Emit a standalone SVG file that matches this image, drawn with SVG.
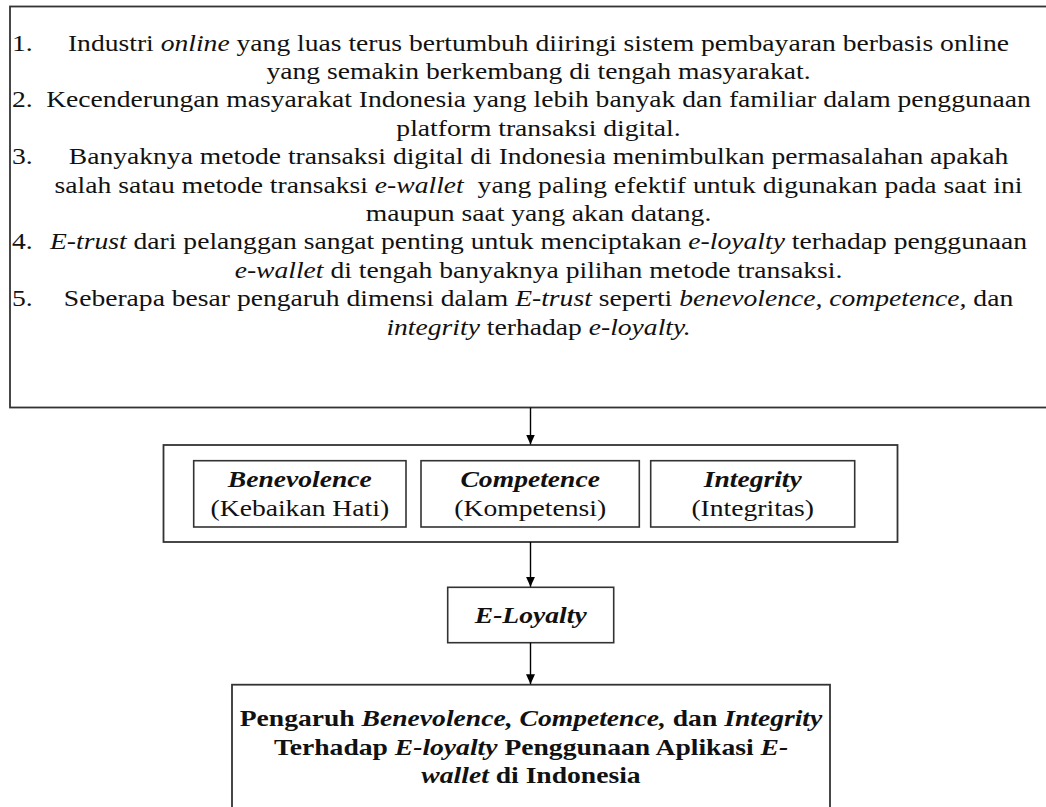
<svg xmlns="http://www.w3.org/2000/svg" width="1046" height="807" viewBox="0 0 1046 807">
<defs>
<style>
.t{font-family:"Liberation Serif","Times New Roman",serif;font-size:24px;fill:#111;}
.c{text-anchor:middle;}
.i{font-style:italic;}
.b{font-weight:bold;}
.box{fill:#fff;stroke:#333;stroke-width:1.8;}
.ibox{fill:#fff;stroke:#333;stroke-width:1.6;}
.conn{stroke:#000;stroke-width:1.4;fill:none;}
</style>
<marker id="ah" viewBox="0 0 10 10" refX="10" refY="5" markerWidth="10" markerHeight="10" markerUnits="userSpaceOnUse" orient="auto">
<path d="M0,0.5 L10,5 L0,9.5 Z" fill="#000"/>
</marker>
</defs>
<rect width="1046" height="807" fill="#fff"/>

<g id="node-problems">
<rect class="box" x="10" y="6.5" width="1045" height="401"/>
<text class="t" transform="translate(12 50.5) scale(1.15 1)">1.</text>
<text class="t c" transform="translate(538.5 50.5) scale(1.15 1)">Industri <tspan class="i">online</tspan> yang luas terus bertumbuh diiringi sistem pembayaran berbasis online</text>
<text class="t c" transform="translate(538.5 78.9) scale(1.15 1)">yang semakin berkembang di tengah masyarakat.</text>
<text class="t" transform="translate(12 107.3) scale(1.15 1)">2.</text>
<text class="t c" transform="translate(538.5 107.3) scale(1.15 1)">Kecenderungan masyarakat Indonesia yang lebih banyak dan familiar dalam penggunaan</text>
<text class="t c" transform="translate(538.5 135.7) scale(1.15 1)">platform transaksi digital.</text>
<text class="t" transform="translate(12 164.1) scale(1.15 1)">3.</text>
<text class="t c" transform="translate(538.5 164.1) scale(1.15 1)">Banyaknya metode transaksi digital di Indonesia menimbulkan permasalahan apakah</text>
<text class="t c" transform="translate(538.5 192.5) scale(1.15 1)" style="white-space:pre">salah satau metode transaksi <tspan class="i">e-wallet</tspan>  yang paling efektif untuk digunakan pada saat ini</text>
<text class="t c" transform="translate(538.5 220.9) scale(1.15 1)">maupun saat yang akan datang.</text>
<text class="t" transform="translate(12 249.3) scale(1.15 1)">4.</text>
<text class="t c" transform="translate(538.5 249.3) scale(1.15 1)"><tspan class="i">E-trust</tspan> dari pelanggan sangat penting untuk menciptakan <tspan class="i">e-loyalty</tspan> terhadap penggunaan</text>
<text class="t c" transform="translate(538.5 277.7) scale(1.15 1)"><tspan class="i">e-wallet</tspan> di tengah banyaknya pilihan metode transaksi.</text>
<text class="t" transform="translate(12 306.1) scale(1.15 1)">5.</text>
<text class="t c" transform="translate(538.5 306.1) scale(1.15 1)">Seberapa besar pengaruh dimensi dalam <tspan class="i">E-trust</tspan> seperti <tspan class="i">benevolence, competence,</tspan> dan</text>
<text class="t c" transform="translate(538.5 334.5) scale(1.15 1)"><tspan class="i">integrity</tspan> terhadap <tspan class="i">e-loyalty.</tspan></text>
</g>

<g id="node-etrust">
<rect class="box" x="163.5" y="445" width="734" height="97"/>
</g>

<g id="node-benevolence">
<rect class="ibox" x="193.7" y="460.7" width="212.3" height="66.3"/>
<text class="t c" transform="translate(299.8 487) scale(1.15 1)"><tspan class="b i">Benevolence</tspan></text>
<text class="t c" transform="translate(299.8 515.5) scale(1.15 1)">(Kebaikan Hati)</text>
</g>

<g id="node-competence">
<rect class="ibox" x="421" y="460.7" width="218.3" height="66.3"/>
<text class="t c" transform="translate(530.2 487) scale(1.15 1)"><tspan class="b i">Competence</tspan></text>
<text class="t c" transform="translate(530.2 515.5) scale(1.15 1)">(Kompetensi)</text>
</g>

<g id="node-integrity">
<rect class="ibox" x="650.7" y="460.7" width="204" height="66.3"/>
<text class="t c" transform="translate(752.7 487) scale(1.15 1)"><tspan class="b i">Integrity</tspan></text>
<text class="t c" transform="translate(752.7 515.5) scale(1.15 1)">(Integritas)</text>
</g>

<g id="node-eloyalty">
<rect class="ibox" x="447.7" y="587.3" width="166" height="55.4"/>
<text class="t c" transform="translate(530.7 623) scale(1.15 1)"><tspan class="b i">E-Loyalty</tspan></text>
</g>

<g id="node-title">
<rect class="box" x="232" y="684.7" width="598" height="140"/>
<text class="t c b" transform="translate(531 726) scale(1.15 1)">Pengaruh <tspan class="i">Benevolence, Competence,</tspan> dan <tspan class="i">Integrity</tspan></text>
<text class="t c b" transform="translate(531 754.5) scale(1.15 1)">Terhadap <tspan class="i">E-loyalty</tspan> Penggunaan Aplikasi <tspan class="i">E-</tspan></text>
<text class="t c b" transform="translate(531 783) scale(1.15 1)"><tspan class="i">wallet</tspan> di Indonesia</text>
</g>

<g id="connectors">
<line class="conn" x1="530.5" y1="407.5" x2="530.5" y2="444.5" marker-end="url(#ah)"/>
<line class="conn" x1="530.5" y1="542" x2="530.5" y2="586.8" marker-end="url(#ah)"/>
<line class="conn" x1="530.5" y1="642.7" x2="530.5" y2="684.2" marker-end="url(#ah)"/>
</g>
</svg>
